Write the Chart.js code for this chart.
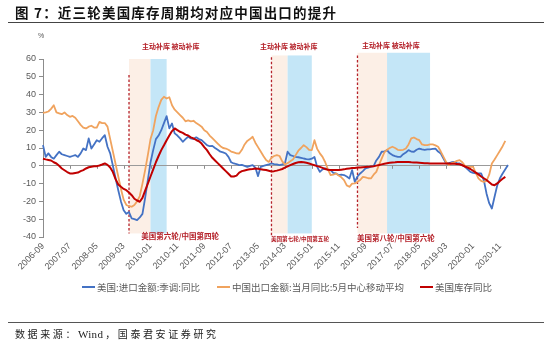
<!DOCTYPE html>
<html>
<head>
<meta charset="utf-8">
<script src="https://cdn.jsdelivr.net/npm/chart.js@4/dist/chart.umd.min.js"></script>
<style>
html,body{margin:0;padding:0;background:#fff;}
#wrap{position:relative;width:550px;height:352px;overflow:hidden;background:#fff;font-family:'Noto Sans CJK SC','Noto Sans',sans-serif;}
#title{position:absolute;left:15px;top:3px;font-size:13.5px;font-weight:bold;letter-spacing:1.2px;color:#111;white-space:nowrap;line-height:18px;}
#tline{position:absolute;left:8px;top:22px;width:536px;height:0;border-top:1.2px solid #444;}
#sline{position:absolute;left:8px;top:322px;width:536px;height:0;border-top:1px solid #555;}
#src{position:absolute;left:15px;top:327px;font-size:10px;letter-spacing:2.6px;color:#222;white-space:nowrap;line-height:14px;}
#src span{letter-spacing:0.3px;font-family:'Liberation Serif',serif;font-size:11px;margin-right:2px;}
#pct{position:absolute;left:38px;top:32px;font-size:7px;color:#555;font-family:'Liberation Sans',sans-serif;}
canvas{position:absolute;left:0;top:0;}
.lg{position:absolute;top:281px;font-size:9.5px;line-height:12px;color:#595959;white-space:nowrap;}
.lg i{display:inline-block;width:13px;height:2px;vertical-align:middle;margin-right:2px;position:relative;top:-1px;}
</style>
</head>
<body>
<div id="wrap">
  <canvas id="c" width="550" height="352"></canvas>
  <div id="title">图 7：近三轮美国库存周期均对应中国出口的提升</div>
  <div id="tline"></div>
  <div id="pct">%</div>
  <div class="lg" style="left:82px"><i style="background:#4472C4"></i>美国:进口金额:季调:同比</div>
  <div class="lg" style="left:217px"><i style="background:#F0A35E"></i>中国出口金额:当月同比:5月中心移动平均</div>
  <div class="lg" style="left:420px"><i style="background:#C00000"></i>美国库存同比</div>
  <div id="sline"></div>
  <div id="src">数据来源：<span>Wind</span>，国泰君安证券研究</div>
</div>
<script>
// ---------- data ----------
const START_YEAR = 2006, START_MONTH = 9, N_MONTHS = 174;
const CATEGORIES = [];
for (let i = 0, y = START_YEAR, m = START_MONTH; i < N_MONTHS; i++) {
  CATEGORIES.push(y + '-' + String(m).padStart(2, '0'));
  m++; if (m > 12) { m = 1; y++; }
}
const TICK_LABELS = ['2006-09','2007-07','2008-05','2009-03','2010-01','2010-11','2011-09','2012-07','2013-05','2014-03','2015-01','2015-11','2016-09','2017-07','2018-05','2019-03','2020-01','2020-11'];
const Y_TICKS = [-40,-30,-20,-10,0,10,20,30,40,50,60];

const US_IMPORTS = [
 11.6,5,7,5,4,6,7.9,6.5,6,5.5,
 5,5.5,6,5,7,9.7,8.8,15.4,9.7,12,
 14.4,13.5,15.5,17.2,10.7,7,0,-7,-13.7,-20,
 -25,-27,-26,-29.6,-30,-30.5,-29,-27,-18,-8,
 2,8.8,15,17,20,24,27.9,21,23.8,18.2,
 17,15.4,13.5,15,16.3,15.4,15,16,15,14.4,
 13,11.6,11,11.2,10,9,7.9,7.5,6.9,5,
 2,1.3,1,0.4,0.5,0,-0.6,0,0.4,-1,
 -5.8,-0.6,0,0.4,0.8,1.3,1,0.8,0.4,0.8,
 1.3,7.9,6,5.5,5,4.8,4.5,4.1,3.8,3.6,
 4,5,-0.6,-3.4,-2,-1.5,-2,-2.4,-4,-4.3,
 -5.2,-5,-5.2,-6,-7.1,-2.4,-9,-6,-4.3,-3,
 -1.5,-1,-0.5,-0.2,3,5,7.9,8,8.8,7,
 6,5.4,5,5,6.5,7.5,8.8,8,7.9,9,
 9.7,9.2,9,9.2,9.2,9.5,9.7,8,6.9,4,
 1.3,1.5,2,2.2,1.5,1.3,0.5,-0.6,-2,-3.4,
 -4,-4.3,-4.3,-4.3,-8,-15.5,-21,-24,-17.4,-11,
 -7,-4.3,-2,0.4
];
const CN_EXPORTS = [
 29.8,30,30.5,32,34,30,29.5,29,30,28.5,
 27.5,28,27,25,23,21.5,21,22,22.5,21.5,
 21.5,24.7,24,24,22,15,8,1,-6,-13,
 -19,-22,-22.7,-23,-22,-20,-17,-10,-2.4,6,
 15,20,28,33,37,38.8,37.8,38.5,34,31.5,
 30,28.5,27,25,25.5,25,25.3,24,23,22,
 20,19,17,15.5,14,12.5,11,10,9.7,9,
 8,7.5,7,6.9,9,12,14,15,16.3,13,
 10.5,8,5.5,3.2,2.2,4.5,5.5,6,5.5,2.5,
 0.8,1.5,2.5,3.5,6,8.5,10,11.6,10.5,9,
 8.8,14.4,9.5,7,5,2,-2,-5.2,-5,-4.3,
 -5.5,-6.5,-8,-11,-11.8,-10,-9.9,-9,-8,-6.2,
 -6.5,-7,-7.1,-5,-3.4,0.5,4,7.5,9,10,
 10.7,10,9,8.8,9,9.7,12,15.4,15.9,15,
 14.4,12,11.6,11.6,12,12,11.5,10.7,8,5,
 2,0.4,1.5,2,2.8,3.2,2,0,-0.6,-0.6,
 -0.6,-4,-7.1,-8.5,-9,-8.5,-5,1.3,3.5,6,
 8.5,11,14,null
];
const US_INVENTORY = [
 4,3.6,3.3,3,2,1.3,0,-1.5,-2.5,-3.5,
 -4.3,-4.3,-4,-3.8,-3,-2.4,-1.5,-0.8,-0.5,-0.3,
 -0.2,0.2,0.7,1.3,0.5,-1,-3.5,-7.5,-10.5,-11.8,
 -13,-13.7,-15,-16.5,-18.5,-19.5,-20.2,-18,-14,-10,
 -6,-2,2,5.5,8.8,11.5,14.4,17,19.5,21,
 20,19.1,18.5,17.5,17,16,15.4,14.5,13.8,12.5,
 10.5,8.8,6.5,4.5,3,1.5,0,-1.5,-3,-4.5,
 -6,-6,-5.5,-3.8,-3,-2.6,-2.2,-2,-1.8,-1.5,
 -1.7,-2,-2.2,-2.4,-2.8,-3.2,-3,-2.7,-2.3,-1.8,
 -1,-0.3,0.4,1,1.6,2,2.2,2,1.7,1.3,
 0.8,0.3,-0.2,-0.6,-1.2,-1.8,-2.2,-2.4,-2.4,-2.4,
 -2.4,-2.2,-2,-1.7,-1.5,-1.3,-1.2,-1,-0.9,-0.8,
 -0.7,-0.6,-0.4,-0.2,0.1,0.4,0.8,1.1,1.4,1.7,
 1.9,2,2.2,2.2,2.2,2.2,2.2,2,1.9,1.8,
 1.7,1.6,1.5,1.4,1.3,1.3,1.3,1.3,1.3,1.3,
 1.3,1.3,1.2,1.1,1,0.9,0.3,-0.4,-1,-1.8,
 -2.8,-3.8,-4.8,-6,-7,-8,-9.2,-10.5,-10.9,-9.9,
 -8.5,-7.3,-6.2,null
];
const SERIES_NAMES = ['美国:进口金额:季调:同比','中国出口金额:当月同比:5月中心移动平均','美国库存同比'];

// inventory-cycle periods (months)
const CYCLE_START  = ['2009-05','2013-10','2016-06'];   // dashed line, start of active restocking
const CYCLE_SWITCH = ['2010-01','2014-04','2017-05'];   // start of passive restocking
const CYCLE_END    = ['2010-07','2015-01','2018-09'];
const PHASE_LABEL  = '主动补库 被动补库';
const CYCLE_LABELS = ['美国第六轮/中国第四轮','美国第七轮/中国第五轮','美国第八轮/中国第六轮'];

// ---------- layout / style (not data) ----------
const ANN = {
  boxTop: [60, 62, 63.5], boxBottom: -38,
  dashTop: [51, 61, 62], dashBottom: [-38, -40, -35],
  phaseX: [36.8, 80.7, 118.7], phaseY: [66.9, 66.9, 67.4],
  labelX: [51, 95.6, 131.3], labelY: [-39.8, -41, -40.6], labelSize: [7.5, 5.6, 7.5]
};
const COLORS = { blue:'#4472C4', orange:'#F0A35E', red:'#C00000', pink:'#FCEFE6', sky:'#C4E6F7', ann:'#B5222A' };

const idx = s => CATEGORIES.indexOf(s);

const cyclePlugin = {
  id: 'cycles',
  beforeDraw(chart) {
    const { ctx, scales: { x, y } } = chart;
    ctx.save();
    for (let i = 0; i < CYCLE_START.length; i++) {
      const x0 = x.getPixelForValue(idx(CYCLE_START[i]));
      const x1 = x.getPixelForValue(idx(CYCLE_SWITCH[i]));
      const x2 = x.getPixelForValue(idx(CYCLE_END[i]));
      const yt = y.getPixelForValue(ANN.boxTop[i]);
      const yb = y.getPixelForValue(ANN.boxBottom);
      ctx.fillStyle = COLORS.pink; ctx.fillRect(x0, yt, x1 - x0, yb - yt);
      ctx.fillStyle = COLORS.sky;  ctx.fillRect(x1, yt, x2 - x1, yb - yt);
      ctx.strokeStyle = COLORS.ann; ctx.lineWidth = 1.3; ctx.setLineDash([2.5, 2]);
      ctx.beginPath();
      ctx.moveTo(x0, y.getPixelForValue(ANN.dashTop[i]));
      ctx.lineTo(x0, y.getPixelForValue(ANN.dashBottom[i]));
      ctx.stroke();
    }
    ctx.restore();
  },
  beforeDatasetsDraw(chart) {
    const { ctx, scales: { x, y } } = chart;
    const y0 = y.getPixelForValue(0);
    ctx.save();
    ctx.strokeStyle = '#8c8c8c'; ctx.lineWidth = 1;
    TICK_LABELS.forEach(l => {
      const px = Math.round(x.getPixelForValue(idx(l))) + 0.5;
      ctx.beginPath(); ctx.moveTo(px, y0); ctx.lineTo(px, y0 + 3); ctx.stroke();
    });
    ctx.restore();
  },
  afterDraw(chart) {
    const { ctx, scales: { x, y } } = chart;
    ctx.save();
    ctx.fillStyle = COLORS.ann;
    ctx.textBaseline = 'middle';
    for (let i = 0; i < CYCLE_START.length; i++) {
      ctx.font = 'bold 7px "Noto Sans CJK SC"';
      ctx.textAlign = 'left';
      ctx.fillText(PHASE_LABEL, x.getPixelForValue(ANN.phaseX[i]), y.getPixelForValue(ANN.phaseY[i]));
      ctx.font = 'bold ' + ANN.labelSize[i] + 'px "Noto Sans CJK SC"';
      ctx.textAlign = 'center';
      ctx.fillText(CYCLE_LABELS[i], x.getPixelForValue(ANN.labelX[i]), y.getPixelForValue(ANN.labelY[i]));
    }
    ctx.restore();
  }
};

new Chart(document.getElementById('c'), {
  type: 'line',
  data: {
    labels: CATEGORIES,
    datasets: [
      { label: SERIES_NAMES[0], data: US_IMPORTS, borderColor: COLORS.blue, borderWidth: 1.8, order: 3 },
      { label: SERIES_NAMES[1], data: CN_EXPORTS, borderColor: COLORS.orange, borderWidth: 1.8, order: 2 },
      { label: SERIES_NAMES[2], data: US_INVENTORY, borderColor: COLORS.red, borderWidth: 2, order: 1 }
    ]
  },
  options: {
    responsive: false, animation: false, devicePixelRatio: 1,
    elements: { point: { radius: 0 }, line: { tension: 0, borderJoinStyle: 'round' } },
    layout: { padding: { top: 59, right: 42, left: 0, bottom: 0 } },
    plugins: { legend: { display: false }, tooltip: { enabled: false } },
    scales: {
      x: {
        type: 'category', offset: false,
        grid: { display: false, drawTicks: false },
        border: { display: false },
        ticks: {
          autoSkip: false, minRotation: 45, maxRotation: 45, padding: 4,
          color: '#595959', font: { family: 'Liberation Sans', size: 9 },
          callback: function(v, i) { const l = CATEGORIES[i]; return TICK_LABELS.includes(l) ? l : ''; }
        },
        afterFit: s => { s.height = 352 - 237; }
      },
      y: {
        min: -40, max: 60,
        afterBuildTicks: s => { s.ticks = Y_TICKS.map(v => ({ value: v })); },
        grid: {
          drawOnChartArea: true, drawTicks: true, tickLength: 4, tickColor: '#8c8c8c',
          color: c => (c.tick && c.tick.value === 0) ? '#9a9a9a' : 'rgba(0,0,0,0)'
        },
        border: { display: true, color: '#8c8c8c' },
        ticks: { padding: 3, color: '#595959', font: { family: 'Liberation Sans', size: 9 } },
        afterFit: s => { s.width = 43; }
      }
    }
  },
  plugins: [cyclePlugin]
});
</script>
</body>
</html>
